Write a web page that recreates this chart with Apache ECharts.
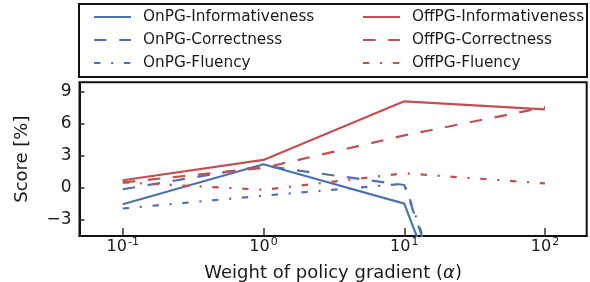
<!DOCTYPE html>
<html>
<head>
<meta charset="utf-8">
<script src="https://cdn.jsdelivr.net/npm/echarts@6/dist/echarts.min.js"></script>
<style>
html,body{margin:0;padding:0;background:#fff;}
#c{width:590px;height:282px;}
</style>
</head>
<body>
<div id="c"></div>
<script>
// ---- data ----
var alphas = [0.1, 1, 10, 100];
var onInformativeness = [-1.55, 2.2, -1.5, -36];
var onCorrectness = [-0.15, 2.05, 0.25, -38];
var onFluency = [-1.95, -0.75, 0.37, -37];
var offInformativeness = [0.7, 2.6, 8.1, 7.35];
var offCorrectness = [0.5, 1.85, 4.9, 7.55];
var offFluency = [0.5, -0.2, 1.35, 0.4];
var xTicks = [0.1, 1, 10, 100];
var yTicks = [-3, 0, 3, 6, 9];

var BLUE = '#4C72B0', RED = '#C44E52';
var DASH = [12.6, 12.6];
var DASHDOT = [6.4, 10.7, 2.1, 10.7];
var FONT = 'DejaVu Sans';

function pairs(vals) { return alphas.map(function (a, i) { return [a, vals[i]]; }); }
function mk(name, vals, color, type) {
  return {
    name: name, type: 'line', data: pairs(vals), symbol: 'none', clip: true,
    lineStyle: { color: color, width: 2.2, type: type, cap: 'butt' },
    itemStyle: { color: color },
    emphasis: { disabled: true }, animation: false
  };
}

var chart = echarts.init(document.getElementById('c'), null, { renderer: 'canvas' });
var legendCommon = {
  orient: 'vertical', top: 4, itemWidth: 37, itemHeight: 16, itemGap: 7,
  itemStyle: { opacity: 0 },
  textStyle: { fontFamily: FONT, fontSize: 15.3, color: '#1a1a1a', padding: [0, 0, 0, 7], lineHeight: 16 },
  selectedMode: false
};
chart.setOption({
  animation: false,
  backgroundColor: '#fff',
  graphic: [{
    type: 'rect', shape: { x: 79, y: 4, width: 508, height: 73 },
    style: { fill: 'transparent', stroke: '#111', lineWidth: 2 }, z: 0, silent: true
  }],
  legend: [
    Object.assign({}, legendCommon, { left: 88, data: ['OnPG-Informativeness', 'OnPG-Correctness', 'OnPG-Fluency'] }),
    Object.assign({}, legendCommon, { left: 357, data: ['OffPG-Informativeness', 'OffPG-Correctness', 'OffPG-Fluency'] })
  ],
  grid: { left: 79.5, right: 3.3, top: 82.3, bottom: 46, show: true, borderColor: '#111', borderWidth: 2,
    backgroundColor: 'transparent', containLabel: false, outerBoundsMode: 'none' },
  xAxis: {
    type: 'log', logBase: 10, min: 0.0493, max: 197.7,
    name: 'Weight of policy gradient ({i|α})', nameLocation: 'middle', nameGap: 28,
    nameTextStyle: { fontFamily: FONT, fontSize: 18, color: '#1a1a1a',
      rich: { i: { fontFamily: FONT, fontSize: 18, fontStyle: 'italic', color: '#1a1a1a' } } },
    axisLine: { show: true, onZero: false, lineStyle: { color: '#111', width: 2 } },
    axisTick: { show: true, inside: true, length: 8, customValues: xTicks, lineStyle: { color: '#333', width: 1.5 } },
    minorTick: { show: false },
    splitLine: { show: false },
    axisLabel: {
      customValues: xTicks, margin: 1, fontFamily: FONT, color: '#1a1a1a',
      formatter: function (v) {
        var e = Math.round(Math.log10(v));
        return '{b|10}{s|' + e + '}';
      },
      rich: {
        b: { fontFamily: FONT, fontSize: 16, color: '#1a1a1a', verticalAlign: 'bottom', lineHeight: 18, padding: [11, 0, 0, 0] },
        s: { fontFamily: FONT, fontSize: 11, color: '#1a1a1a', verticalAlign: 'top', lineHeight: 12, padding: [0, 0, 0, 1] }
      }
    }
  },
  yAxis: {
    type: 'value', min: -4.53, max: 9.88,
    name: 'Score [%]', nameLocation: 'middle', nameGap: 48, nameRotate: 90,
    nameTextStyle: { fontFamily: FONT, fontSize: 18, color: '#1a1a1a' },
    axisLine: { show: true, onZero: false, lineStyle: { color: '#111', width: 2 } },
    axisTick: { show: true, inside: true, length: 5, customValues: yTicks, lineStyle: { color: '#333', width: 1.5 } },
    splitLine: { show: false },
    axisLabel: {
      customValues: yTicks, margin: 8, fontFamily: FONT, fontSize: 17, color: '#1a1a1a',
      formatter: function (v) { return v < 0 ? '\u2212' + (-v) : String(v); }
    }
  },
  series: [
    mk('OnPG-Informativeness', onInformativeness, BLUE, 'solid'),
    mk('OnPG-Correctness', onCorrectness, BLUE, DASH),
    mk('OnPG-Fluency', onFluency, BLUE, DASHDOT),
    mk('OffPG-Informativeness', offInformativeness, RED, 'solid'),
    mk('OffPG-Correctness', offCorrectness, RED, DASH),
    mk('OffPG-Fluency', offFluency, RED, DASHDOT)
  ]
});
</script>
</body>
</html>
